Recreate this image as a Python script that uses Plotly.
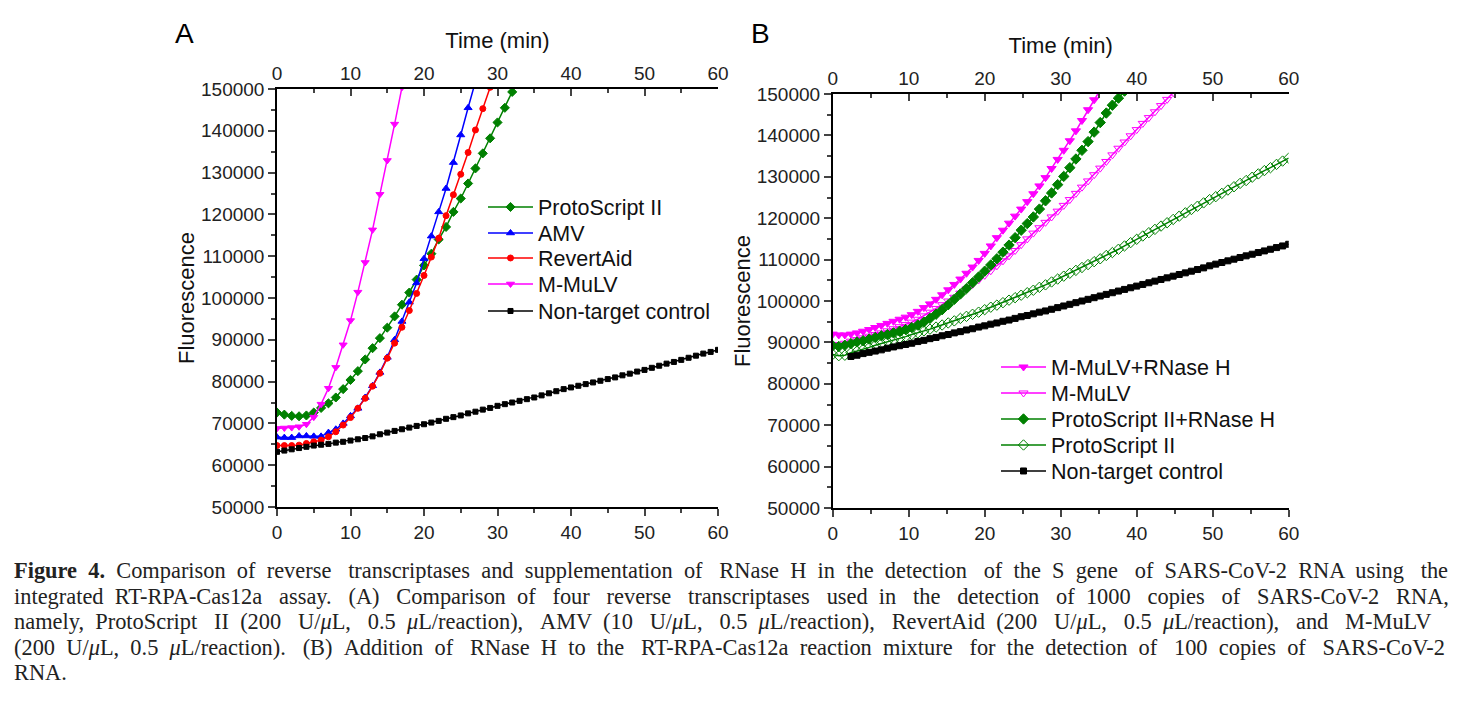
import plotly.graph_objects as go

# ---------------- Panel A data (1-min reads) ----------------
time_a = list(range(0, 61))
a_protoscript = [72600, 72100, 71800, 71700, 71900, 72600, 73700, 74800, 76200, 78200,
                 80400, 82500, 85300, 88000, 90400, 92900, 95600, 98400, 101300, 104400,
                 107800, 110600, 114000, 117000, 120600, 123800, 127400, 131000, 134600, 138200,
                 142000, 145500, 149300, 153000]
a_amv = [66700, 66600, 66600, 67000, 67000, 66900, 66900, 67800, 68600, 70000,
         71800, 73600, 76200, 79000, 82200, 85800, 90000, 94400, 99000, 103600,
         109400, 114800, 120600, 126200, 132400, 139000, 145500, 151800]
a_revertaid = [64700, 64700, 64700, 64800, 65200, 65600, 66000, 66800, 68000, 69600,
               71400, 73600, 76000, 78900, 82000, 85600, 89200, 93000, 97000, 101100,
               105400, 109800, 114300, 119700, 124700, 129600, 134800, 140200, 145300, 150400]
a_mmulv = [68800, 68900, 69000, 69200, 69800, 71500, 74600, 78400, 83400, 88800,
           94600, 101400, 108500, 116300, 124800, 132900, 141600, 150400]
a_control = [63200, 63500, 63800, 64100, 64400, 64700, 64900, 65100, 65400, 65600,
             65900, 66200, 66500, 66900, 67400, 67800, 68200, 68600, 69000, 69400,
             69800, 70200, 70600, 71100, 71500, 71900, 72400, 72800, 73300, 73700,
             74200, 74600, 75000, 75400, 75800, 76200, 76700, 77200, 77700, 78200,
             78600, 79000, 79400, 79800, 80200, 80600, 81000, 81500, 81900, 82400,
             82800, 83300, 83800, 84300, 84700, 85200, 85700, 86200, 86700, 87100, 87600]

# ---------------- Panel B data (0.8-min reads) ----------------
time_b = [round(0.8 * i, 1) for i in range(76)]
b_mmulv_rnaseh = [92000, 91800, 91800, 92000, 92300, 92700, 93100, 93600, 94100, 94600,
                  95100, 95600, 96100, 96700, 97500, 98400, 99300, 100400, 101500, 102700,
                  104000, 105300, 106700, 108200, 109800, 111500, 113300, 115300, 117100, 118800,
                  120500, 122200, 124000, 125900, 127800, 129800, 132000, 134200, 136400, 138700,
                  141100, 143600, 146200, 148600, 151000]
b_mmulv = [89500, 89300, 89800, 90300, 90700, 91100, 91500, 91900, 92300, 92800,
           93300, 93800, 94300, 94900, 95600, 96400, 97300, 98200, 99100, 100000,
           100900, 101900, 102900, 104000, 105100, 106200, 107300, 108500, 109700, 110900,
           112200, 113600, 115000, 116400, 117700, 119000, 120300, 121700, 123100, 124500,
           126000, 127500, 129000, 130500, 132100, 133700, 135300, 136900, 138400, 139900,
           141400, 142900, 144300, 145700, 147200, 148700, 150300]
b_ps_rnaseh = [89200, 89000, 89300, 89700, 90100, 90400, 90800, 91200, 91600, 91900,
               92300, 92700, 93100, 93600, 94200, 94900, 95800, 96800, 97900, 99100,
               100400, 101700, 103000, 104400, 105800, 107200, 108700, 110200, 111800, 113500,
               115300, 117100, 118700, 120300, 122200, 124200, 126100, 128100, 130100, 132200,
               134300, 136400, 138500, 140800, 143100, 145400, 147300, 149000, 150700]
b_ps = [87100, 86800, 86900, 87500, 87900, 88300, 88800, 89300, 89700, 90200,
        90600, 91000, 91400, 91900, 92300, 92800, 93200, 93700, 94200, 94700,
        95200, 95800, 96300, 96800, 97300, 97900, 98500, 99000, 99600, 100200,
        100800, 101400, 102000, 102600, 103300, 103900, 104600, 105300, 106000, 106700,
        107400, 108100, 108800, 109500, 110200, 111000, 111700, 112500, 113300, 114100,
        114900, 115700, 116500, 117300, 118100, 118900, 119700, 120500, 121300, 122100,
        122900, 123700, 124500, 125200, 126000, 126800, 127600, 128400, 129100, 129900,
        130700, 131500, 132200, 133000, 133800, 134500]
b_control_start = 3  # first read shown at index 3 (2.4 min)
b_control = [86600, 86900, 87300, 87600, 87900, 88200, 88600, 88900, 89200, 89500,
             89800, 90200, 90500, 90900, 91200, 91600, 91900, 92300, 92600, 93000,
             93300, 93700, 94000, 94400, 94700, 95100, 95400, 95800, 96200, 96500,
             96900, 97300, 97600, 98000, 98400, 98800, 99200, 99600, 100000, 100400,
             100800, 101200, 101600, 102000, 102400, 102800, 103200, 103600, 104000, 104400,
             104800, 105200, 105600, 106000, 106400, 106800, 107200, 107600, 108000, 108500,
             108900, 109300, 109700, 110100, 110500, 110900, 111300, 111700, 112100, 112500,
             112900, 113300, 113700]

x_ticks = [0, 10, 20, 30, 40, 50, 60]
y_ticks = [50000, 60000, 70000, 80000, 90000, 100000, 110000, 120000, 130000, 140000, 150000]

GREEN = "#008000"
BLUE = "#0000FF"
RED = "#FF0000"
MAGENTA = "#FF00FF"
BLACK = "#000000"
FONT = "Liberation Sans, Arial, sans-serif"

W, H = 1462, 710
def px(x):
    return x / W
def py(y):
    return 1 - y / H

fig = go.Figure()

def add(xs, ys, name, color, symbol, size, xa, ya, legend):
    fig.add_trace(go.Scatter(
        x=xs, y=ys, name=name, mode="lines+markers",
        line=dict(color=color, width=1.5),
        marker=dict(symbol=symbol, size=size, color=color, line=dict(color=color, width=1)),
        xaxis=xa, yaxis=ya, legend=legend, showlegend=True))

# Panel A
add(time_a[:len(a_protoscript)], a_protoscript, "ProtoScript II", GREEN, "diamond", 7, "x", "y", "legend")
add(time_a[:len(a_amv)], a_amv, "AMV", BLUE, "triangle-up", 7, "x", "y", "legend2")
add(time_a[:len(a_revertaid)], a_revertaid, "RevertAid", RED, "circle", 6, "x", "y", "legend3")
add(time_a[:len(a_mmulv)], a_mmulv, "M-MuLV", MAGENTA, "triangle-down", 7, "x", "y", "legend4")
add(time_a[:len(a_control)], a_control, "Non-target control", BLACK, "square", 5, "x", "y", "legend5")

# Panel B
add(time_b[:len(b_mmulv_rnaseh)], b_mmulv_rnaseh, "M-MuLV+RNase H", MAGENTA, "triangle-down", 8, "x3", "y2", "legend6")
add(time_b[:len(b_mmulv)], b_mmulv, "M-MuLV", MAGENTA, "triangle-down-open", 8, "x3", "y2", "legend7")
add(time_b[:len(b_ps_rnaseh)], b_ps_rnaseh, "ProtoScript II+RNase H", GREEN, "diamond", 8, "x3", "y2", "legend8")
add(time_b[:len(b_ps)], b_ps, "ProtoScript II", GREEN, "diamond-open", 8, "x3", "y2", "legend9")
add(time_b[b_control_start:b_control_start + len(b_control)], b_control,
    "Non-target control", BLACK, "square", 6, "x3", "y2", "legend10")

# dummy traces to activate top axes
for xa, ya in (("x2", "y"), ("x4", "y2")):
    fig.add_trace(go.Scatter(x=[None], y=[None], xaxis=xa, yaxis=ya,
                             showlegend=False, hoverinfo="skip"))

tickfont = dict(family=FONT, size=19, color="#222222")
titlefont = dict(family=FONT, size=22, color="#111111")

def xaxis(domain, anchor, side, overlaying=None, title=None):
    d = dict(domain=domain, anchor=anchor, side=side, range=[0, 60],
             tickvals=x_ticks, ticks="outside" if side == "bottom" else "inside",
             ticklen=7, tickwidth=1.5,
             showline=True, linecolor=BLACK, linewidth=1.5, mirror=False,
             showgrid=False, zeroline=False, tickfont=tickfont, automargin=False,
             minor=dict(dtick=5, tick0=0, ticks="outside" if side == "bottom" else "inside",
                        ticklen=4, tickwidth=1.5),
             fixedrange=True)
    if overlaying:
        d["overlaying"] = overlaying
    if title:
        d["title"] = dict(text=title, font=titlefont, standoff=8)
    return d

def yaxis(domain, anchor):
    return dict(domain=domain, anchor=anchor, range=[50000, 150000],
                tickvals=y_ticks, tickformat="d", ticks="outside", ticklen=7, tickwidth=1.5,
                showline=True, linecolor=BLACK, linewidth=1.5, automargin=False,
                showgrid=False, zeroline=False, tickfont=tickfont,
                minor=dict(dtick=5000, tick0=50000, ticks="outside", ticklen=4, tickwidth=1.5),
                title=dict(text="Fluorescence", font=titlefont, standoff=0),
                fixedrange=True)

xA = [px(277), px(718)]
yA = [py(507), py(89)]
xB = [px(832.7), px(1288.7)]
yB = [py(508), py(94)]

legfont = dict(family=FONT, size=21.5, color="#111111")
def leg(x, y):
    return dict(x=px(x), y=py(y), xanchor="left", yanchor="middle",
                font=legfont, bgcolor="rgba(0,0,0,0)", itemwidth=45,
                borderwidth=0, tracegroupgap=0)

legends = {}
for i, yc in enumerate([207, 233, 258, 284, 311]):
    legends["legend" if i == 0 else "legend%d" % (i + 1)] = leg(483, yc)
for i, yc in enumerate([367, 393, 419, 445, 471]):
    legends["legend%d" % (i + 6)] = leg(996, yc)

fig.update_layout(
    template="none",
    width=W, height=H, autosize=False,
    margin=dict(l=0, r=0, t=0, b=0, pad=0),
    paper_bgcolor="white", plot_bgcolor="white",
    xaxis=xaxis(xA, "y", "bottom"),
    xaxis2=xaxis(xA, "y", "top", overlaying="x", title="Time (min)"),
    yaxis=yaxis(yA, "x"),
    xaxis3=xaxis(xB, "y2", "bottom"),
    xaxis4=xaxis(xB, "y2", "top", overlaying="x3", title="Time (min)"),
    yaxis2=yaxis(yB, "x3"),
    showlegend=True,
    **legends,
)

# panel letters
fig.add_annotation(x=px(173), y=py(16), xref="paper", yref="paper", text="A",
                   showarrow=False, font=dict(family=FONT, size=28, color="black"))
fig.add_annotation(x=px(760), y=py(16), xref="paper", yref="paper", text="B",
                   showarrow=False, font=dict(family=FONT, size=28, color="black"))

# caption (justified by widening word gaps with non-breaking spaces)
caption_lines = [
    "<b>Figure 4.</b> Comparison of reverse transcriptases and supplementation of RNase H in the detection of the S gene of SARS-CoV-2 RNA using the",
    "integrated RT-RPA-Cas12a assay. (A) Comparison of four reverse transcriptases used in the detection of 1000 copies of SARS-CoV-2 RNA,",
    "namely, ProtoScript II (200 U/<i>μ</i>L, 0.5 <i>μ</i>L/reaction), AMV (10 U/<i>μ</i>L, 0.5 <i>μ</i>L/reaction), RevertAid (200 U/<i>μ</i>L, 0.5 <i>μ</i>L/reaction), and M-MuLV",
    "(200 U/<i>μ</i>L, 0.5 <i>μ</i>L/reaction). (B) Addition of RNase H to the RT-RPA-Cas12a reaction mixture for the detection of 100 copies of SARS-CoV-2",
    "RNA.",
]
caption_extra = [27, 32, 29, 27, 0]   # extra nbsp per line, spread over the gaps
caption_y = [570, 596, 621, 647, 672]
NB = "\u00a0"

def justify(line, extra):
    words = line.split(" ")
    gaps = len(words) - 1
    if gaps <= 0 or extra <= 0:
        return line
    out = words[0]
    for i in range(gaps):
        n = (i + 1) * extra // gaps - i * extra // gaps
        out += " " + NB * n + words[i + 1]
    return out

for line, extra, yc in zip(caption_lines, caption_extra, caption_y):
    fig.add_annotation(x=px(12), y=py(yc), xref="paper", yref="paper",
                       text=justify(line, extra),
                       showarrow=False, xanchor="left", yanchor="middle",
                       font=dict(family="Liberation Serif, serif", size=22.4, color="#222222"))

fig.write_html("out.html", post_script="document.body.style.margin='0px';")
